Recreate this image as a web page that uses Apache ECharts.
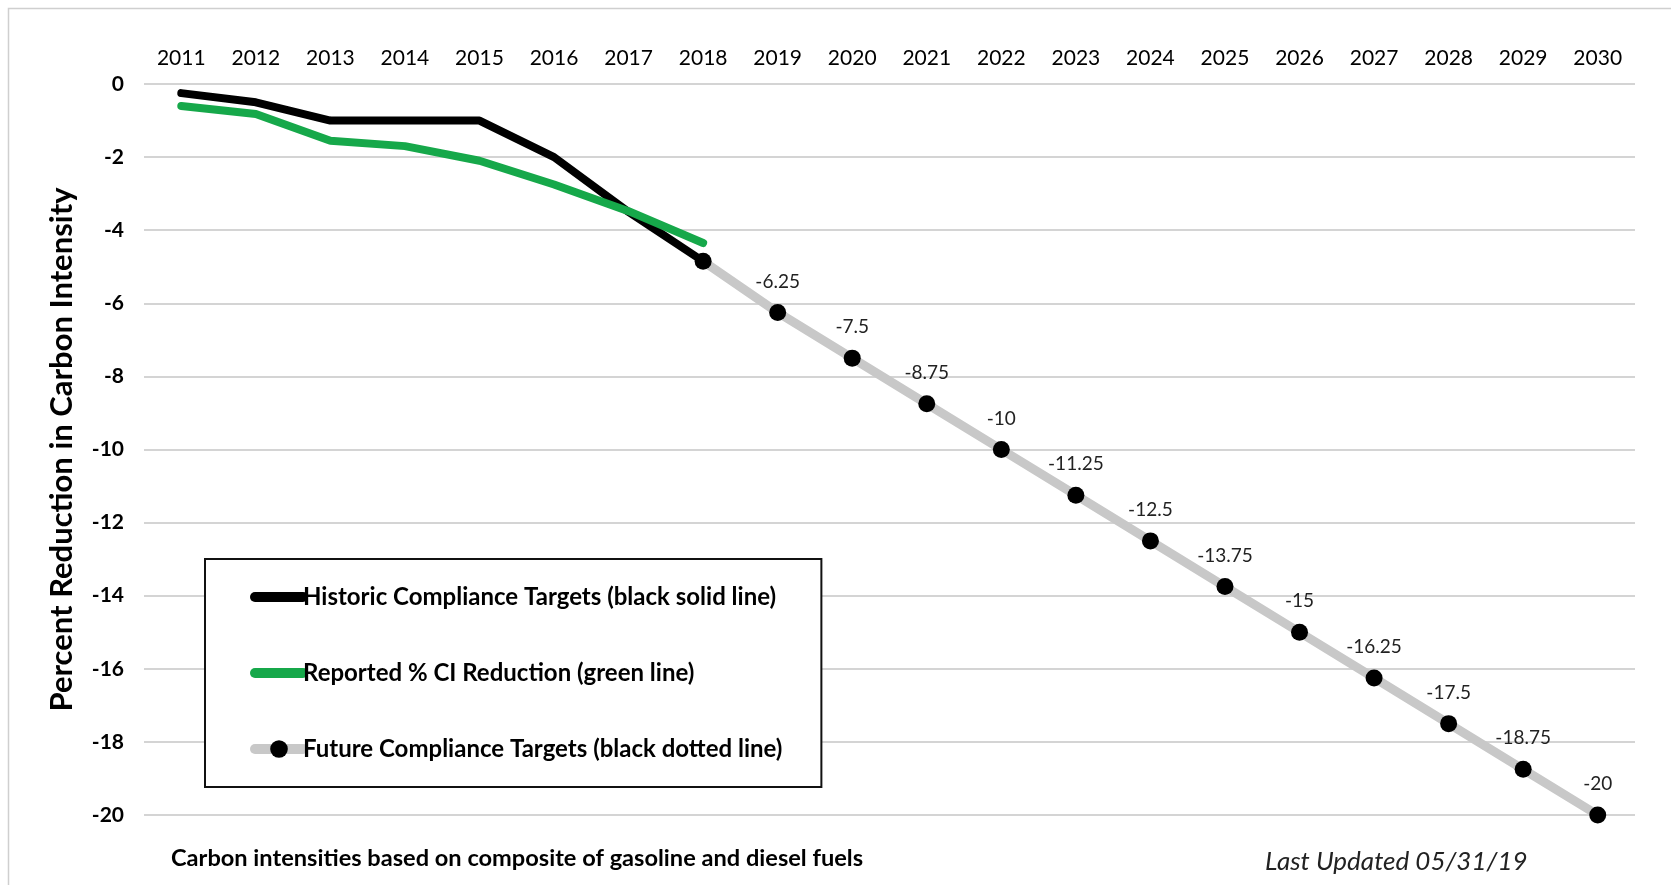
<!DOCTYPE html>
<html>
<head>
<meta charset="utf-8">
<script src="https://cdn.jsdelivr.net/npm/echarts@6/dist/echarts.min.js"></script>
<style>
html,body{margin:0;padding:0;background:#fff;}
#chart{width:1671px;height:885px;}
</style>
</head>
<body>
<div id="chart"></div>
<script>
const years = ['2011','2012','2013','2014','2015','2016','2017','2018','2019','2020','2021','2022','2023','2024','2025','2026','2027','2028','2029','2030'];
const historic = [-0.25, -0.5, -1, -1, -1, -2, -3.5, -4.85, null, null, null, null, null, null, null, null, null, null, null, null];
const reported = [-0.6, -0.82, -1.55, -1.7, -2.1, -2.75, -3.48, -4.35, null, null, null, null, null, null, null, null, null, null, null, null];
const future = [null, null, null, null, null, null, null, -4.85, -6.25, -7.5, -8.75, -10, -11.25, -12.5, -13.75, -15, -16.25, -17.5, -18.75, -20];
const yTicks = {min: -20, max: 0, interval: 2};
const seriesNames = ['Historic Compliance Targets (black solid line)', 'Reported % CI Reduction (green line)', 'Future Compliance Targets (black dotted line)'];

const FONT = 'Lato, "Open Sans", sans-serif';
const GREEN = '#16a84a';
const chart = echarts.init(document.getElementById('chart'), null, {renderer: 'canvas'});
chart.setOption({
  backgroundColor: '#fff',
  animation: false,
  grid: {left: 144, right: 36, top: 84, bottom: 70, containLabel: false},
  xAxis: {
    type: 'category',
    data: years,
    position: 'top',
    boundaryGap: true,
    axisLine: {show: false},
    axisTick: {show: false},
    axisLabel: {color: '#000', fontFamily: FONT, fontSize: 21, margin: 15, interval: 0}
  },
  yAxis: {
    type: 'value',
    min: yTicks.min, max: yTicks.max, interval: yTicks.interval,
    name: 'Percent Reduction in Carbon Intensity',
    nameLocation: 'middle',
    nameGap: 67,
    nameTextStyle: {color: '#000', fontFamily: FONT, fontSize: 31, fontWeight: 'bold'},
    axisLine: {show: false},
    axisTick: {show: false},
    axisLabel: {color: '#000', fontFamily: FONT, fontSize: 21, fontWeight: 'bold', margin: 20},
    splitLine: {lineStyle: {color: '#d4d4d4', width: 2}}
  },
  legend: {
    orient: 'vertical',
    left: 205, top: 559,
    padding: [26, 39, 26, 45],
    itemGap: 52,
    itemWidth: 48,
    itemHeight: 22,
    backgroundColor: '#fff',
    borderColor: '#111',
    borderWidth: 2,
    textStyle: {color: '#000', fontFamily: FONT, fontSize: 24, fontWeight: 'bold', padding: [0,0,0,-5]},
    data: [
      {name: seriesNames[0], itemStyle: {opacity: 0}, lineStyle: {width: 10, cap: 'round', color: '#000'}},
      {name: seriesNames[1], itemStyle: {opacity: 0}, lineStyle: {width: 10, cap: 'round', color: GREEN}},
      {name: seriesNames[2], lineStyle: {width: 10, cap: 'round', color: '#c8c8c8'}}
    ]
  },
  series: [
    {
      name: seriesNames[2],
      type: 'line',
      data: future,
      z: 2,
      symbol: 'circle',
      symbolSize: 17,
      itemStyle: {color: '#000'},
      lineStyle: {color: '#c8c8c8', width: 9},
      label: {
        show: true, position: 'top', distance: 13,
        color: '#222', fontFamily: FONT, fontSize: 19,
        formatter: p => p.dataIndex === 7 ? '' : String(p.value)
      }
    },
    {
      name: seriesNames[0],
      type: 'line',
      data: historic,
      z: 3,
      symbol: 'none',
      itemStyle: {color: '#000'},
      lineStyle: {color: '#000', width: 8, cap: 'round'}
    },
    {
      name: seriesNames[1],
      type: 'line',
      data: reported,
      z: 4,
      symbol: 'none',
      itemStyle: {color: GREEN},
      lineStyle: {color: GREEN, width: 8, cap: 'round'}
    }
  ],
  graphic: [
    {type: 'rect', left: 6, top: 6, shape: {width: 1680, height: 900}, style: {fill: 'none', stroke: '#cfcfcf', lineWidth: 1.5}, silent: true, z: -10},
    {type: 'text', left: 171, top: 846, style: {text: 'Carbon intensities based on composite of gasoline and diesel fuels', fill: '#000', font: 'bold 23.6px ' + FONT}},
    {type: 'text', left: 1265, top: 849, style: {text: 'Last Updated 05/31/19', fill: '#222', font: 'italic 26px ' + FONT}}
  ]
});
</script>
</body>
</html>
